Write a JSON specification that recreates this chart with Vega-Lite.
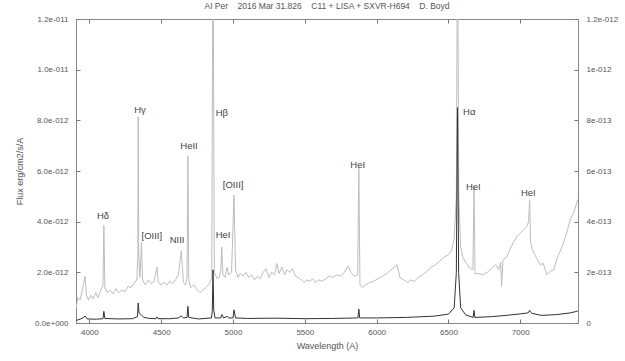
{
  "$schema": "https://vega.github.io/schema/vega-lite/v6.json",
  "width": 502,
  "height": 304,
  "autosize": {"type": "none"},
  "padding": {"left": 76, "top": 19, "right": 47, "bottom": 38},
  "background": "white",
  "title": {"text": "AI Per\u00a0\u00a0\u00a0 2016 Mar 31.826\u00a0\u00a0\u00a0 C11 + LISA + SXVR-H694\u00a0\u00a0\u00a0 D. Boyd", "fontSize": 8.5, "fontWeight": "normal", "color": "#555", "font": "Liberation Sans", "offset": 5},
  "config": {
    "view": {"stroke": "#888", "strokeWidth": 1},
    "font": "Liberation Sans",
    "axis": {"grid": false, "domain": false, "tickColor": "#777", "tickSize": -4, "labelFontSize": 8, "labelColor": "#555", "titleFontSize": 9, "titleFontWeight": "normal", "titleColor": "#555", "labelFont": "Liberation Sans", "titleFont": "Liberation Sans"}
  },
  "datasets": {
    "gray": [
      {"lam": 3908, "flux": 0.6e-13}, {"lam": 3920, "flux": 1.0e-13}, {"lam": 3935, "flux": 0.9e-13}, {"lam": 3955, "flux": 1.4e-13}, {"lam": 3970, "flux": 1.85e-13}, {"lam": 3980, "flux": 1.1e-13}, {"lam": 3995, "flux": 0.9e-13}, {"lam": 4010, "flux": 1.1e-13}, {"lam": 4025, "flux": 0.95e-13}, {"lam": 4045, "flux": 1.2e-13}, {"lam": 4060, "flux": 1.0e-13}, {"lam": 4080, "flux": 1.3e-13}, {"lam": 4095, "flux": 1.5e-13}, {"lam": 4101, "flux": 3.85e-13}, {"lam": 4108, "flux": 1.4e-13}, {"lam": 4125, "flux": 1.2e-13}, {"lam": 4145, "flux": 1.3e-13}, {"lam": 4165, "flux": 1.15e-13}, {"lam": 4185, "flux": 1.35e-13}, {"lam": 4205, "flux": 1.2e-13}, {"lam": 4225, "flux": 1.3e-13}, {"lam": 4250, "flux": 1.25e-13}, {"lam": 4270, "flux": 1.45e-13}, {"lam": 4290, "flux": 1.4e-13}, {"lam": 4310, "flux": 1.55e-13}, {"lam": 4330, "flux": 1.7e-13}, {"lam": 4337, "flux": 2.5e-13}, {"lam": 4340, "flux": 8.15e-13}, {"lam": 4344, "flux": 2.6e-13}, {"lam": 4352, "flux": 1.8e-13}, {"lam": 4363, "flux": 3.2e-13}, {"lam": 4370, "flux": 1.7e-13}, {"lam": 4390, "flux": 1.5e-13}, {"lam": 4410, "flux": 1.7e-13}, {"lam": 4430, "flux": 1.55e-13}, {"lam": 4450, "flux": 1.65e-13}, {"lam": 4471, "flux": 2.2e-13}, {"lam": 4480, "flux": 1.6e-13}, {"lam": 4500, "flux": 1.5e-13}, {"lam": 4520, "flux": 1.6e-13}, {"lam": 4540, "flux": 1.5e-13}, {"lam": 4560, "flux": 1.65e-13}, {"lam": 4580, "flux": 1.55e-13}, {"lam": 4600, "flux": 1.7e-13}, {"lam": 4620, "flux": 1.9e-13}, {"lam": 4640, "flux": 2.85e-13}, {"lam": 4655, "flux": 1.6e-13}, {"lam": 4670, "flux": 1.5e-13}, {"lam": 4680, "flux": 1.8e-13}, {"lam": 4686, "flux": 6.6e-13}, {"lam": 4692, "flux": 1.7e-13}, {"lam": 4705, "flux": 1.4e-13}, {"lam": 4725, "flux": 1.5e-13}, {"lam": 4745, "flux": 1.35e-13}, {"lam": 4770, "flux": 1.2e-13}, {"lam": 4790, "flux": 1.3e-13}, {"lam": 4810, "flux": 1.4e-13}, {"lam": 4835, "flux": 1.55e-13}, {"lam": 4852, "flux": 1.8e-13}, {"lam": 4861, "flux": 16e-13}, {"lam": 4870, "flux": 2.0e-13}, {"lam": 4890, "flux": 1.75e-13}, {"lam": 4905, "flux": 1.8e-13}, {"lam": 4915, "flux": 2.1e-13}, {"lam": 4922, "flux": 3.0e-13}, {"lam": 4930, "flux": 1.9e-13}, {"lam": 4945, "flux": 1.8e-13}, {"lam": 4959, "flux": 2.2e-13}, {"lam": 4970, "flux": 1.9e-13}, {"lam": 4990, "flux": 2.0e-13}, {"lam": 5007, "flux": 5.05e-13}, {"lam": 5018, "flux": 2.1e-13}, {"lam": 5035, "flux": 1.8e-13}, {"lam": 5050, "flux": 1.95e-13}, {"lam": 5070, "flux": 1.85e-13}, {"lam": 5090, "flux": 2.0e-13}, {"lam": 5110, "flux": 1.8e-13}, {"lam": 5130, "flux": 1.9e-13}, {"lam": 5150, "flux": 1.7e-13}, {"lam": 5170, "flux": 1.85e-13}, {"lam": 5190, "flux": 1.75e-13}, {"lam": 5210, "flux": 2.0e-13}, {"lam": 5230, "flux": 2.15e-13}, {"lam": 5250, "flux": 1.8e-13}, {"lam": 5270, "flux": 2.0e-13}, {"lam": 5290, "flux": 1.9e-13}, {"lam": 5305, "flux": 2.35e-13}, {"lam": 5320, "flux": 1.95e-13}, {"lam": 5340, "flux": 2.2e-13}, {"lam": 5360, "flux": 1.9e-13}, {"lam": 5375, "flux": 2.1e-13}, {"lam": 5395, "flux": 2.0e-13}, {"lam": 5415, "flux": 2.15e-13}, {"lam": 5435, "flux": 1.85e-13}, {"lam": 5455, "flux": 1.8e-13}, {"lam": 5475, "flux": 1.7e-13}, {"lam": 5495, "flux": 1.6e-13}, {"lam": 5515, "flux": 1.7e-13}, {"lam": 5535, "flux": 1.65e-13}, {"lam": 5555, "flux": 1.75e-13}, {"lam": 5575, "flux": 1.6e-13}, {"lam": 5595, "flux": 1.7e-13}, {"lam": 5620, "flux": 1.65e-13}, {"lam": 5645, "flux": 1.75e-13}, {"lam": 5670, "flux": 1.85e-13}, {"lam": 5700, "flux": 1.8e-13}, {"lam": 5720, "flux": 1.9e-13}, {"lam": 5746, "flux": 1.85e-13}, {"lam": 5770, "flux": 1.95e-13}, {"lam": 5802, "flux": 2.25e-13}, {"lam": 5820, "flux": 2.0e-13}, {"lam": 5845, "flux": 1.85e-13}, {"lam": 5868, "flux": 1.9e-13}, {"lam": 5876, "flux": 6.1e-13}, {"lam": 5884, "flux": 1.5e-13}, {"lam": 5900, "flux": 1.4e-13}, {"lam": 5920, "flux": 1.5e-13}, {"lam": 5950, "flux": 1.6e-13}, {"lam": 5980, "flux": 1.65e-13}, {"lam": 6010, "flux": 1.75e-13}, {"lam": 6040, "flux": 1.85e-13}, {"lam": 6070, "flux": 1.95e-13}, {"lam": 6100, "flux": 2.1e-13}, {"lam": 6125, "flux": 2.2e-13}, {"lam": 6141, "flux": 2.3e-13}, {"lam": 6164, "flux": 1.78e-13}, {"lam": 6190, "flux": 1.7e-13}, {"lam": 6215, "flux": 1.6e-13}, {"lam": 6240, "flux": 1.7e-13}, {"lam": 6260, "flux": 1.64e-13}, {"lam": 6290, "flux": 1.8e-13}, {"lam": 6320, "flux": 1.9e-13}, {"lam": 6350, "flux": 2.05e-13}, {"lam": 6380, "flux": 2.2e-13}, {"lam": 6410, "flux": 2.3e-13}, {"lam": 6440, "flux": 2.45e-13}, {"lam": 6470, "flux": 2.6e-13}, {"lam": 6500, "flux": 2.7e-13}, {"lam": 6520, "flux": 2.85e-13}, {"lam": 6540, "flux": 3.3e-13}, {"lam": 6555, "flux": 5e-13}, {"lam": 6563, "flux": 16e-13}, {"lam": 6572, "flux": 5e-13}, {"lam": 6585, "flux": 3.0e-13}, {"lam": 6600, "flux": 2.6e-13}, {"lam": 6620, "flux": 2.4e-13}, {"lam": 6645, "flux": 2.2e-13}, {"lam": 6670, "flux": 2.1e-13}, {"lam": 6678, "flux": 5.4e-13}, {"lam": 6685, "flux": 1.95e-13}, {"lam": 6710, "flux": 1.95e-13}, {"lam": 6740, "flux": 1.9e-13}, {"lam": 6770, "flux": 2.0e-13}, {"lam": 6800, "flux": 2.15e-13}, {"lam": 6830, "flux": 2.3e-13}, {"lam": 6850, "flux": 2.1e-13}, {"lam": 6864, "flux": 2.4e-13}, {"lam": 6870, "flux": 1.45e-13}, {"lam": 6880, "flux": 2.5e-13}, {"lam": 6905, "flux": 2.6e-13}, {"lam": 6935, "flux": 3.0e-13}, {"lam": 6977, "flux": 3.42e-13}, {"lam": 7010, "flux": 3.6e-13}, {"lam": 7046, "flux": 3.81e-13}, {"lam": 7058, "flux": 4.0e-13}, {"lam": 7065, "flux": 4.87e-13}, {"lam": 7072, "flux": 3.2e-13}, {"lam": 7085, "flux": 2.9e-13}, {"lam": 7110, "flux": 2.6e-13}, {"lam": 7139, "flux": 2.3e-13}, {"lam": 7160, "flux": 2.35e-13}, {"lam": 7185, "flux": 1.9e-13}, {"lam": 7210, "flux": 2.05e-13}, {"lam": 7232, "flux": 2.1e-13}, {"lam": 7260, "flux": 2.6e-13}, {"lam": 7290, "flux": 3.0e-13}, {"lam": 7320, "flux": 3.5e-13}, {"lam": 7348, "flux": 4.08e-13}, {"lam": 7375, "flux": 4.4e-13}, {"lam": 7400, "flux": 4.87e-13}
    ],
    "dark": [
      {"lam": 3908, "flux": 0.1e-12}, {"lam": 3935, "flux": 0.15e-12}, {"lam": 3955, "flux": 0.2e-12}, {"lam": 3970, "flux": 0.28e-12}, {"lam": 3985, "flux": 0.16e-12}, {"lam": 4050, "flux": 0.15e-12}, {"lam": 4095, "flux": 0.17e-12}, {"lam": 4101, "flux": 0.46e-12}, {"lam": 4108, "flux": 0.18e-12}, {"lam": 4200, "flux": 0.16e-12}, {"lam": 4300, "flux": 0.17e-12}, {"lam": 4335, "flux": 0.25e-12}, {"lam": 4340, "flux": 0.79e-12}, {"lam": 4346, "flux": 0.4e-12}, {"lam": 4360, "flux": 0.33e-12}, {"lam": 4380, "flux": 0.22e-12}, {"lam": 4420, "flux": 0.18e-12}, {"lam": 4465, "flux": 0.17e-12}, {"lam": 4471, "flux": 0.24e-12}, {"lam": 4480, "flux": 0.17e-12}, {"lam": 4560, "flux": 0.17e-12}, {"lam": 4620, "flux": 0.2e-12}, {"lam": 4640, "flux": 0.28e-12}, {"lam": 4655, "flux": 0.2e-12}, {"lam": 4680, "flux": 0.22e-12}, {"lam": 4686, "flux": 0.66e-12}, {"lam": 4692, "flux": 0.22e-12}, {"lam": 4760, "flux": 0.16e-12}, {"lam": 4850, "flux": 0.2e-12}, {"lam": 4856, "flux": 0.5e-12}, {"lam": 4861, "flux": 2.1e-12}, {"lam": 4866, "flux": 0.5e-12}, {"lam": 4875, "flux": 0.2e-12}, {"lam": 4915, "flux": 0.2e-12}, {"lam": 4922, "flux": 0.33e-12}, {"lam": 4935, "flux": 0.2e-12}, {"lam": 4959, "flux": 0.26e-12}, {"lam": 4970, "flux": 0.2e-12}, {"lam": 5000, "flux": 0.2e-12}, {"lam": 5007, "flux": 0.52e-12}, {"lam": 5018, "flux": 0.2e-12}, {"lam": 5100, "flux": 0.18e-12}, {"lam": 5300, "flux": 0.19e-12}, {"lam": 5500, "flux": 0.17e-12}, {"lam": 5700, "flux": 0.18e-12}, {"lam": 5870, "flux": 0.2e-12}, {"lam": 5876, "flux": 0.55e-12}, {"lam": 5882, "flux": 0.2e-12}, {"lam": 6000, "flux": 0.2e-12}, {"lam": 6200, "flux": 0.22e-12}, {"lam": 6400, "flux": 0.27e-12}, {"lam": 6500, "flux": 0.35e-12}, {"lam": 6540, "flux": 0.6e-12}, {"lam": 6555, "flux": 2.0e-12}, {"lam": 6563, "flux": 8.5e-12}, {"lam": 6571, "flux": 2.0e-12}, {"lam": 6585, "flux": 0.6e-12}, {"lam": 6620, "flux": 0.32e-12}, {"lam": 6672, "flux": 0.22e-12}, {"lam": 6678, "flux": 0.5e-12}, {"lam": 6684, "flux": 0.22e-12}, {"lam": 6800, "flux": 0.25e-12}, {"lam": 6900, "flux": 0.3e-12}, {"lam": 7000, "flux": 0.36e-12}, {"lam": 7055, "flux": 0.4e-12}, {"lam": 7065, "flux": 0.5e-12}, {"lam": 7080, "flux": 0.38e-12}, {"lam": 7150, "flux": 0.3e-12}, {"lam": 7250, "flux": 0.33e-12}, {"lam": 7350, "flux": 0.4e-12}, {"lam": 7400, "flux": 0.47e-12}
    ],
    "labels": [
      {"lam": 4095, "flux": 4.24e-13, "label": "Hδ"},
      {"lam": 4353, "flux": 8.42e-13, "label": "Hγ"},
      {"lam": 4435, "flux": 3.42e-13, "label": "[OIII]"},
      {"lam": 4611, "flux": 3.29e-13, "label": "NIII"},
      {"lam": 4694, "flux": 6.97e-13, "label": "HeII"},
      {"lam": 4922, "flux": 8.29e-13, "label": "Hβ"},
      {"lam": 4931, "flux": 3.49e-13, "label": "HeI"},
      {"lam": 5001, "flux": 5.46e-13, "label": "[OIII]"},
      {"lam": 5868, "flux": 6.25e-13, "label": "HeI"},
      {"lam": 6645, "flux": 8.31e-13, "label": "Hα"},
      {"lam": 6673, "flux": 5.35e-13, "label": "HeI"},
      {"lam": 7056, "flux": 5.13e-13, "label": "HeI"}
    ]
  },
  "layer": [
    {
      "data": {"name": "gray"},
      "mark": {"type": "line", "color": "#bdbdbd", "strokeWidth": 1, "clip": true},
      "encoding": {
        "x": {"field": "lam", "type": "quantitative", "scale": {"domain": [3907, 7402], "nice": false, "zero": false}, "axis": {"orient": "top", "labels": false, "title": null, "values": [4000, 4500, 5000, 5500, 6000, 6500, 7000]}},
        "y": {"field": "flux", "type": "quantitative", "scale": {"domain": [0, 1.2e-12], "nice": false, "zero": true}, "axis": {"orient": "right", "title": null, "values": [0, 2e-13, 4e-13, 6e-13, 8e-13, 1e-12, 1.2e-12], "labelPadding": 12, "labelExpr": "datum.value == 0 ? '0' : replace(format(datum.value, '~e'), 'e-', 'e-0')"}}
      }
    },
    {
      "data": {"name": "dark"},
      "mark": {"type": "line", "color": "#333", "strokeWidth": 1, "clip": true},
      "encoding": {
        "x": {"field": "lam", "type": "quantitative", "scale": {"domain": [3907, 7402], "nice": false, "zero": false}, "axis": {"orient": "bottom", "title": "Wavelength (A)", "format": "d", "values": [4000, 4500, 5000, 5500, 6000, 6500, 7000], "labelPadding": 9, "titlePadding": 5}},
        "y": {"field": "flux", "type": "quantitative", "scale": {"domain": [0, 1.2e-11], "nice": false, "zero": true}, "axis": {"orient": "left", "title": "Flux erg/cm2/s/A", "values": [0, 2e-12, 4e-12, 6e-12, 8e-12, 1e-11, 1.2e-11], "labelPadding": 12, "titlePadding": 10, "labelExpr": "datum.value == 0 ? '0.0e+000' : replace(format(datum.value, '.1e'), 'e-', 'e-0')"}}
      }
    },
    {
      "data": {"name": "labels"},
      "mark": {"type": "text", "fontSize": 9.5, "color": "#444", "align": "center", "baseline": "middle", "font": "Liberation Sans"},
      "encoding": {
        "x": {"field": "lam", "type": "quantitative", "scale": {"domain": [3907, 7402], "nice": false, "zero": false}, "axis": null},
        "y": {"field": "flux", "type": "quantitative", "scale": {"domain": [0, 1.2e-12], "nice": false, "zero": true}, "axis": null},
        "text": {"field": "label"}
      }
    }
  ],
  "resolve": {"scale": {"y": "independent"}, "axis": {"x": "independent", "y": "independent"}}
}
